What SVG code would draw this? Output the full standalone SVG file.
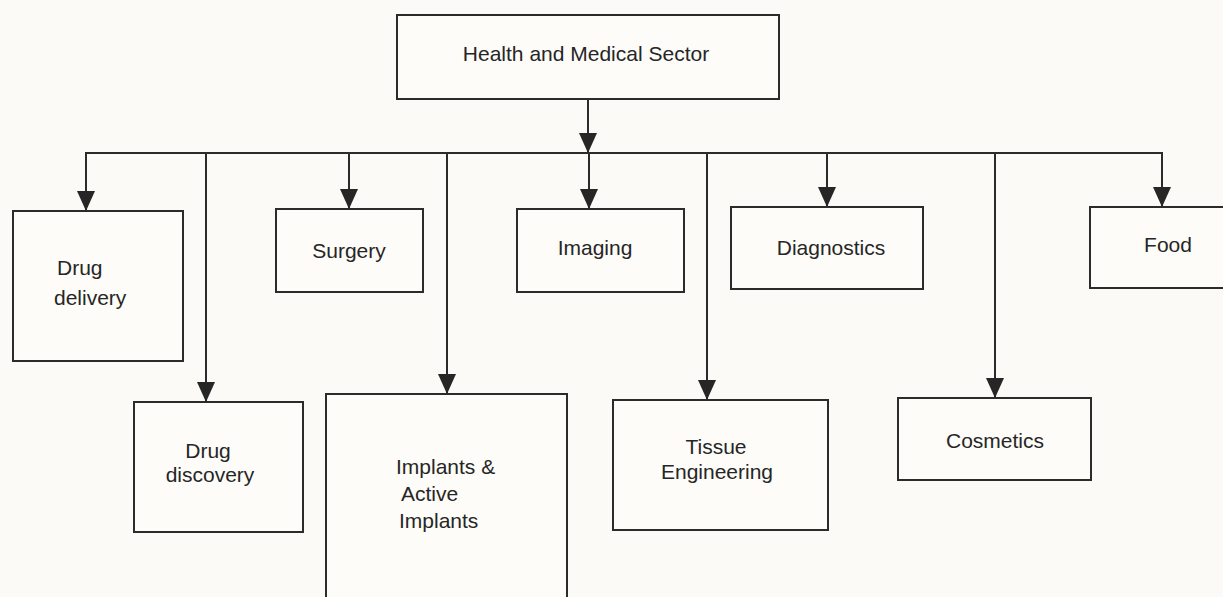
<svg xmlns="http://www.w3.org/2000/svg" width="1223" height="597" viewBox="0 0 1223 597">
<style>
.box{fill:#fdfcf8;stroke:#2b2b2b;stroke-width:2}
.lbl{font-family:"Liberation Sans",Arial,sans-serif;font-size:21px;fill:#262626;text-anchor:middle}
.l{text-anchor:start}
.c{fill:none;stroke:#2b2b2b;stroke-width:2}
</style>
<defs>
<marker id="ah" markerUnits="userSpaceOnUse" markerWidth="20" markerHeight="18" refX="20" refY="9" orient="auto">
<path d="M0,0 L20,9 L0,18 z" fill="#262626"/>
</marker>
</defs>
<rect width="1223" height="597" fill="#fbfaf6"/>
<g id="connectors">
<line class="c" x1="588" y1="99" x2="588" y2="153" marker-end="url(#ah)"/>
<line class="c" x1="85" y1="153" x2="1162" y2="153"/>
<line class="c" x1="86" y1="153" x2="86" y2="211" marker-end="url(#ah)"/>
<line class="c" x1="206" y1="153" x2="206" y2="402" marker-end="url(#ah)"/>
<line class="c" x1="349" y1="153" x2="349" y2="209" marker-end="url(#ah)"/>
<line class="c" x1="447" y1="153" x2="447" y2="394" marker-end="url(#ah)"/>
<line class="c" x1="589" y1="153" x2="589" y2="209" marker-end="url(#ah)"/>
<line class="c" x1="707" y1="153" x2="707" y2="400" marker-end="url(#ah)"/>
<line class="c" x1="827" y1="153" x2="827" y2="207" marker-end="url(#ah)"/>
<line class="c" x1="995" y1="153" x2="995" y2="398" marker-end="url(#ah)"/>
<line class="c" x1="1162" y1="152" x2="1162" y2="207" marker-end="url(#ah)"/>
</g>
<g id="health">
<rect class="box" x="397" y="15" width="382" height="84"/>
<text class="lbl" x="586" y="61">Health and Medical Sector</text>
</g>
<g id="drug-delivery">
<rect class="box" x="13" y="211" width="170" height="150"/>
<text class="lbl l" x="57" y="275">Drug</text>
<text class="lbl l" x="54" y="305">delivery</text>
</g>
<g id="drug-discovery">
<rect class="box" x="134" y="402" width="169" height="130"/>
<text class="lbl" x="208" y="458">Drug</text>
<text class="lbl" x="210" y="482">discovery</text>
</g>
<g id="surgery">
<rect class="box" x="276" y="209" width="147" height="83"/>
<text class="lbl" x="349" y="258">Surgery</text>
</g>
<g id="implants">
<rect class="box" x="326" y="394" width="241" height="215"/>
<text class="lbl l" x="396" y="474">Implants &amp;</text>
<text class="lbl l" x="401" y="501">Active</text>
<text class="lbl l" x="399" y="528">Implants</text>
</g>
<g id="imaging">
<rect class="box" x="517" y="209" width="167" height="83"/>
<text class="lbl" x="595" y="255">Imaging</text>
</g>
<g id="tissue">
<rect class="box" x="613" y="400" width="215" height="130"/>
<text class="lbl" x="716" y="454">Tissue</text>
<text class="lbl" x="717" y="479">Engineering</text>
</g>
<g id="diagnostics">
<rect class="box" x="731" y="207" width="192" height="82"/>
<text class="lbl" x="831" y="255">Diagnostics</text>
</g>
<g id="cosmetics">
<rect class="box" x="898" y="398" width="193" height="82"/>
<text class="lbl" x="995" y="448">Cosmetics</text>
</g>
<g id="food">
<rect class="box" x="1090" y="207" width="150" height="81"/>
<text class="lbl" x="1168" y="252">Food</text>
</g>
</svg>
